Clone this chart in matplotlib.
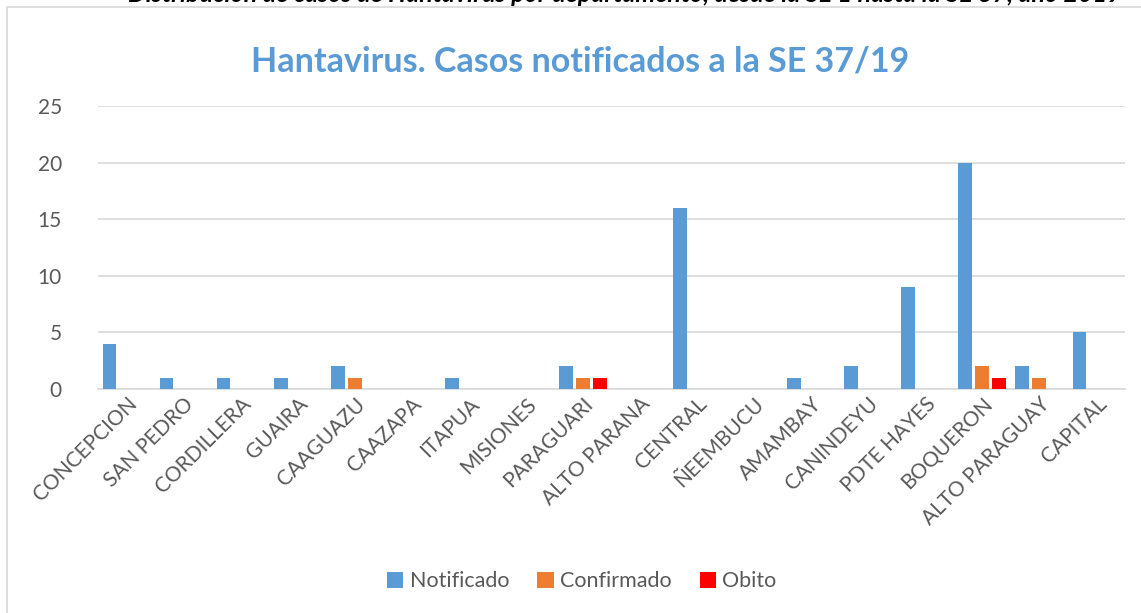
import numpy as np
import matplotlib.pyplot as plt
from matplotlib.patches import Rectangle

plt.rcParams['font.family'] = ['Lato', 'DejaVu Sans']

deptos = ['CONCEPCION', 'SAN PEDRO', 'CORDILLERA', 'GUAIRA', 'CAAGUAZU', 'CAAZAPA',
          'ITAPUA', 'MISIONES', 'PARAGUARI', 'ALTO PARANA', 'CENTRAL', 'ÑEEMBUCU',
          'AMAMBAY', 'CANINDEYU', 'PDTE HAYES', 'BOQUERON', 'ALTO PARAGUAY', 'CAPITAL']
notificado = [4, 1, 1, 1, 2, 0, 1, 0, 2, 0, 16, 0, 1, 2, 9, 20, 2, 5]
confirmado = [0, 0, 0, 0, 1, 0, 0, 0, 1, 0, 0, 0, 0, 0, 0, 2, 1, 0]
obito = [0, 0, 0, 0, 0, 0, 0, 0, 1, 0, 0, 0, 0, 0, 0, 1, 0, 0]

series = [('Notificado', notificado, '#5B9BD5'),
          ('Confirmado', confirmado, '#ED7D31'),
          ('Obito', obito, '#FF0000')]

fig = plt.figure(figsize=(11.41, 6.13), dpi=100)
ax = fig.add_axes([0.0859, 0.3654, 0.900, 0.4617])

# chart frame
fig.patches.append(Rectangle((7 / 1141, -0.1), 1.2, 1 - 7 / 613 + 0.1, transform=fig.transFigure,
                             fill=False, edgecolor='#D9D9D9', linewidth=1.2))

# header line of the page, cut off by the top edge
fig.text(0.548, 1.009, 'Distribución de casos de Hantavirus por departamento, desde la SE 1 hasta la SE 37, año 2019',
         ha='center', va='center', fontsize=18, fontweight='bold', style='italic', color='black')

x = np.arange(len(deptos))
step = 0.298
for i, (name, vals, col) in enumerate(series):
    ax.bar(x + (i - 1) * step, vals, width=0.24, color=col, label=name, zorder=3)

ax.set_xlim(-0.5, len(deptos) - 0.5)
ax.set_ylim(0, 25)
ax.set_yticks(range(0, 26, 5))
ax.yaxis.grid(True, color='#D9D9D9', linewidth=1.2, zorder=0)
for s in ['top', 'right', 'left']:
    ax.spines[s].set_visible(False)
ax.spines['bottom'].set_color('#D9D9D9')
ax.spines['bottom'].set_linewidth(1.2)
ax.tick_params(axis='both', length=0, colors='#595959', labelsize=15)
ax.tick_params(axis='y', pad=26)
ax.set_xticks(x)
ax.set_xticklabels(deptos, rotation=45, ha='right', rotation_mode='anchor')

fig.text(0.508, 0.9, 'Hantavirus. Casos notificados a la SE 37/19', ha='center', va='center',
         fontsize=24.5, fontweight='bold', color='#5B9BD5')

fig.legend(loc='center', bbox_to_anchor=(0.51, 0.052), ncol=3, frameon=False, fontsize=15.5,
           handlelength=0.75, handleheight=0.75, handletextpad=0.3, columnspacing=1.3,
           labelcolor='#595959')

fig.savefig('out.png', dpi=100)
